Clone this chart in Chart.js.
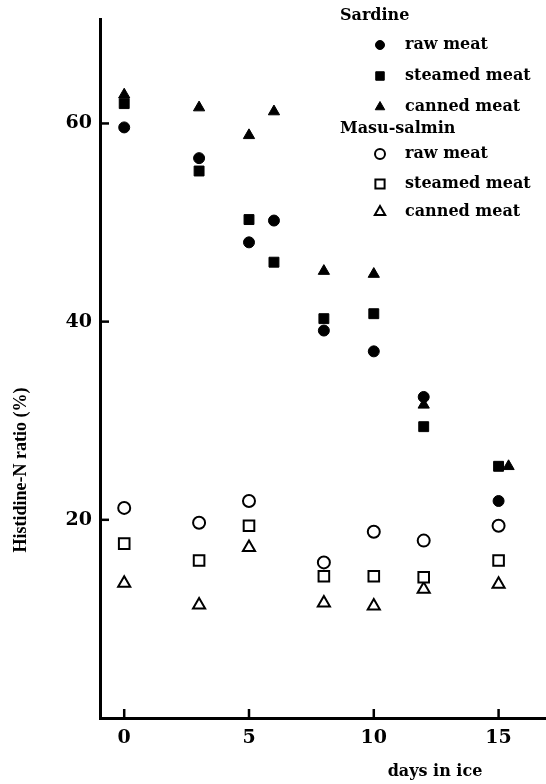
<!DOCTYPE html>
<html>
<head>
<meta charset="utf-8">
<script src="https://cdn.jsdelivr.net/npm/chart.js@4.4.0/dist/chart.umd.min.js"></script>
<style>
  html, body { margin: 0; padding: 0; background: #fff; overflow: hidden; }
  canvas { display: block; }
</style>
</head>
<body>
<canvas id="histidineChart" width="546" height="784"></canvas>
<script>
// days in ice
var sardineDays = [0, 3, 5, 6, 8, 10, 12, 15];
var sardineCannedDays = [0, 3, 5, 6, 8, 10, 12, 15.4];
var salmonDays = [0, 3, 5, 8, 10, 12, 15];

// Histidine-N ratio (%)
var sardineRaw = [59.6, 56.5, 48.0, 50.2, 39.1, 37.0, 32.4, 21.9];
var sardineSteamed = [62.0, 55.2, 50.3, 46.0, 40.3, 40.8, 29.4, 25.4];
var sardineCanned = [62.9, 61.6, 58.8, 61.2, 45.1, 44.8, 31.6, 25.4];
var salmonRaw = [21.2, 19.7, 21.9, 15.7, 18.8, 17.9, 19.4];
var salmonSteamed = [17.6, 15.9, 19.4, 14.3, 14.3, 14.2, 15.9];
var salmonCanned = [13.6, 11.4, 17.2, 11.6, 11.3, 13.0, 13.5];

var xTicks = [0, 5, 10, 15];
var yTicks = [20, 40, 60];
var groupNames = ['Sardine', 'Masu-salmin'];
var itemNames = ['raw meat', 'steamed meat', 'canned meat'];

function pts(xs, ys) {
    return xs.map(function(x, i) { return { x: x, y: ys[i] }; });
}

function series(label, xs, ys, style, filled, r) {
    return {
        label: label,
        data: pts(xs, ys),
        pointStyle: style,
        pointRadius: r,
        pointHoverRadius: r,
        backgroundColor: filled ? '#000' : '#fff',
        borderColor: '#000',
        borderWidth: filled ? 1 : 2,
        showLine: false
    };
}

// inward ticks, axis titles and the grouped legend
var extras = {
    id: 'extras',
    afterDraw: function(chart) {
        var ctx = chart.ctx;
        var xs = chart.scales.x, ys = chart.scales.y;
        var area = chart.chartArea;
        ctx.save();
        ctx.strokeStyle = '#000';
        ctx.lineWidth = 2.5;
        yTicks.forEach(function(v) {
            var py = ys.getPixelForValue(v);
            ctx.beginPath();
            ctx.moveTo(area.left, py);
            ctx.lineTo(area.left + 9, py);
            ctx.stroke();
        });
        xTicks.forEach(function(v) {
            var px = xs.getPixelForValue(v);
            ctx.beginPath();
            ctx.moveTo(px, area.bottom);
            ctx.lineTo(px, area.bottom - 9);
            ctx.stroke();
        });

        ctx.fillStyle = '#000';
        ctx.textBaseline = 'middle';

        // x title
        ctx.font = 'bold 16px "DejaVu Serif"';
        ctx.textAlign = 'center';
        ctx.fillText('days in ice', 435, 772);

        // y title
        ctx.save();
        ctx.translate(21, 470);
        ctx.rotate(-Math.PI / 2);
        ctx.font = 'bold 18px "Liberation Serif"';
        ctx.fillText('Histidine-N ratio (%)', 0, 0);
        ctx.restore();

        // legend
        var groupY = [16, 129];
        var itemY = [[45, 76, 107], [154, 184, 212]];
        ctx.textAlign = 'left';
        groupNames.forEach(function(name, g) {
            ctx.font = 'bold 16px "DejaVu Serif"';
            ctx.fillText(name, 340, groupY[g]);
            itemNames.forEach(function(item, k) {
                var ds = chart.data.datasets[g * 3 + k];
                var y = itemY[g][k];
                ctx.fillStyle = ds.backgroundColor;
                ctx.strokeStyle = ds.borderColor;
                ctx.lineWidth = ds.borderWidth;
                Chart.helpers.drawPoint(ctx, {
                    pointStyle: ds.pointStyle,
                    radius: ds.pointRadius - 1,
                    rotation: 0,
                    borderWidth: ds.borderWidth
                }, 380, y);
                ctx.fillStyle = '#000';
                ctx.font = 'bold 16px "DejaVu Serif"';
                ctx.fillText(item, 405, y);
            });
        });
        ctx.restore();
    }
};

var ctx = document.getElementById('histidineChart').getContext('2d');
new Chart(ctx, {
    type: 'scatter',
    data: {
        datasets: [
            series('raw meat', sardineDays, sardineRaw, 'circle', true, 5.5),
            series('steamed meat', sardineDays, sardineSteamed, 'rect', true, 7),
            series('canned meat', sardineCannedDays, sardineCanned, 'triangle', true, 6.5),
            series('raw meat', salmonDays, salmonRaw, 'circle', false, 6),
            series('steamed meat', salmonDays, salmonSteamed, 'rect', false, 7.5),
            series('canned meat', salmonDays, salmonCanned, 'triangle', false, 7)
        ]
    },
    options: {
        responsive: false,
        animation: false,
        layout: { autoPadding: false, padding: { top: 17, right: 0, left: 0, bottom: 0 } },
        plugins: {
            legend: { display: false },
            tooltip: { enabled: false }
        },
        scales: {
            x: {
                type: 'linear',
                min: -0.97,
                max: 16.9,
                afterFit: function(scale) {
                    scale.height = 66;
                    scale.paddingLeft = 0;
                    scale.paddingRight = 0;
                },
                afterBuildTicks: function(scale) {
                    scale.ticks = xTicks.map(function(v) { return { value: v }; });
                },
                grid: { display: true, drawOnChartArea: false, drawTicks: false },
                border: { display: true, width: 3, color: '#000' },
                ticks: {
                    color: '#000',
                    padding: 9,
                    font: { family: 'DejaVu Serif', weight: 'bold', size: 19 }
                }
            },
            y: {
                min: 0,
                max: 70.5,
                afterFit: function(scale) { scale.width = 100; },
                afterBuildTicks: function(scale) {
                    scale.ticks = yTicks.map(function(v) { return { value: v }; });
                },
                grid: { display: true, drawOnChartArea: false, drawTicks: false },
                border: { display: true, width: 3, color: '#000' },
                ticks: {
                    color: '#000',
                    padding: 8,
                    font: { family: 'DejaVu Serif', weight: 'bold', size: 19 }
                }
            }
        }
    },
    plugins: [extras]
});
</script>
</body>
</html>
